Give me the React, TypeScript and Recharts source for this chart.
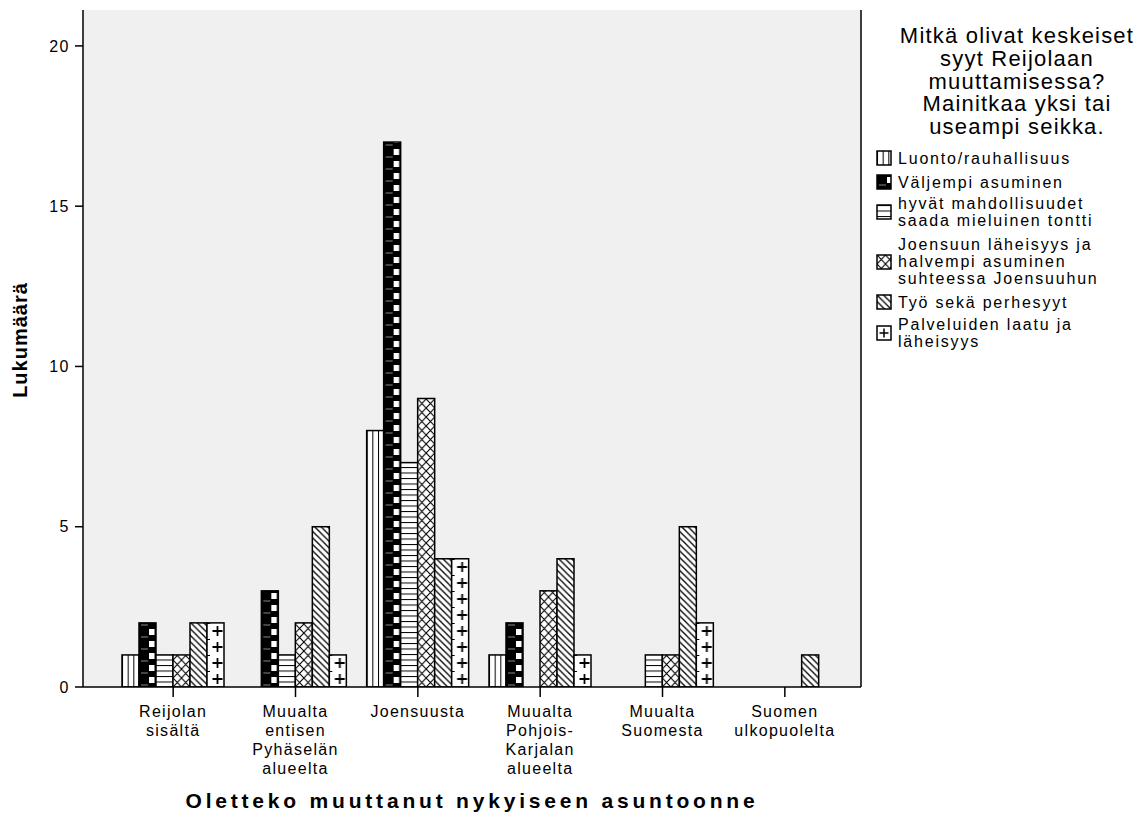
import React from "react";
import { BarChart, Bar, XAxis, YAxis, CartesianGrid } from "recharts";

// categories on the x axis (line breaks as in the original)
const categories = [
  "Reijolan\nsisältä",
  "Muualta\nentisen\nPyhäselän\nalueelta",
  "Joensuusta",
  "Muualta\nPohjois-\nKarjalan\nalueelta",
  "Muualta\nSuomesta",
  "Suomen\nulkopuolelta",
];

// counts per reason, in category order
const luonto = [1, 0, 8, 1, 0, 0];
const valjempi = [2, 3, 17, 2, 0, 0];
const hyvat = [1, 1, 7, 0, 1, 0];
const joensuun = [1, 2, 9, 3, 1, 0];
const tyo = [2, 5, 4, 4, 5, 1];
const palvelut = [2, 1, 4, 1, 2, 0];

const yTicks = [0, 5, 10, 15, 20];
const yDomain = [0, 21.12];

const legendTitle = [
  "Mitkä olivat keskeiset",
  "syyt Reijolaan",
  "muuttamisessa?",
  "Mainitkaa yksi tai",
  "useampi seikka.",
];

const series = [
  { key: "luonto", values: luonto, pattern: "pVert", label: ["Luonto/rauhallisuus"] },
  { key: "valjempi", values: valjempi, pattern: "pCheck", label: ["Väljempi asuminen"] },
  { key: "hyvat", values: hyvat, pattern: "pHoriz", label: ["hyvät mahdollisuudet", "saada mieluinen tontti"] },
  {
    key: "joensuun",
    values: joensuun,
    pattern: "pCross",
    label: ["Joensuun läheisyys ja", "halvempi asuminen", "suhteessa Joensuuhun"],
  },
  { key: "tyo", values: tyo, pattern: "pDiag", label: ["Työ sekä perhesyyt"] },
  { key: "palvelut", values: palvelut, pattern: "pPlus", label: ["Palveluiden laatu ja", "läheisyys"] },
];

const data = categories.map((name, i) => {
  const row: Record<string, any> = { name };
  series.forEach((s) => (row[s.key] = s.values[i]));
  return row;
});

const FONT = '"Liberation Sans", Arial, sans-serif';

// bar drawn in its own coordinate space so the hatch starts at the bar's base
const PatternBar = (props: any) => {
  const { x, y, width, height, fill } = props;
  if (!height || height <= 0) return null;
  return (
    <g transform={`translate(${x},${y + height})`}>
      <rect x={0} y={-height} width={width} height={height} fill={fill} stroke="#000" strokeWidth={1.5} />
    </g>
  );
};

const CategoryTick = (props: any) => {
  const { x, y, payload } = props;
  const lines = String(payload.value).split("\n");
  return (
    <text x={x} y={y} textAnchor="middle" fontSize={16} letterSpacing={1.3} fill="#000" fontFamily={FONT}>
      {lines.map((l, i) => (
        <tspan key={i} x={x} dy={i === 0 ? 18 : 19}>
          {l}
        </tspan>
      ))}
    </text>
  );
};

const Patterns = () => (
  <svg width={0} height={0} style={{ position: "absolute" }}>
    <defs>
      <pattern id="pVert" patternUnits="userSpaceOnUse" width={17 / 3} height={10}>
        <rect width={17 / 3} height={10} fill="#fff" />
        <line x1={0} y1={0} x2={0} y2={10} stroke="#000" strokeWidth={2} />
      </pattern>
      <pattern id="pCheck" patternUnits="userSpaceOnUse" width={17} height={12}>
        <rect width={17} height={12} fill="#000" />
        <rect x={10} y={2} width={5.5} height={6} fill="#fff" />
        <line x1={2} y1={10} x2={9} y2={10} stroke="#888" strokeWidth={1} />
      </pattern>
      <pattern id="pHoriz" patternUnits="userSpaceOnUse" width={10} height={5.5}>
        <rect width={10} height={5.5} fill="#fff" />
        <line x1={0} y1={0} x2={10} y2={0} stroke="#000" strokeWidth={2} />
      </pattern>
      <pattern id="pCross" patternUnits="userSpaceOnUse" width={8.5} height={9}>
        <rect width={8.5} height={9} fill="#fff" />
        <path d="M0,0 L8.5,9 M8.5,0 L0,9" stroke="#000" strokeWidth={1.1} />
      </pattern>
      <pattern id="pDiag" patternUnits="userSpaceOnUse" width={6.5} height={6.5}>
        <rect width={6.5} height={6.5} fill="#fff" />
        <path d="M-1,-1 L7.5,7.5 M-1,5.5 L1,7.5 M5.5,-1 L7.5,1" stroke="#000" strokeWidth={1.3} />
      </pattern>
      <pattern id="pPlus" patternUnits="userSpaceOnUse" width={17} height={16}>
        <rect width={17} height={16} fill="#fff" />
        <path d="M5.5,8 L15.5,8 M10.5,3 L10.5,13 M0,0 L3,0" stroke="#000" strokeWidth={1.8} />
      </pattern>
      <pattern id="pPlusIcon" patternUnits="userSpaceOnUse" width={14} height={14}>
        <rect width={14} height={14} fill="#fff" />
        <path d="M2.5,7 L11.5,7 M7,2.5 L7,11.5" stroke="#000" strokeWidth={1.5} />
      </pattern>
    </defs>
  </svg>
);

// legend line baselines
const legendLayout = [
  { baselines: [164], icon: 151 },
  { baselines: [188], icon: 175 },
  { baselines: [209, 226], icon: 205 },
  { baselines: [250, 267, 284], icon: 255 },
  { baselines: [308], icon: 295 },
  { baselines: [330, 347], icon: 326 },
];

export default function App() {
  return (
    <div style={{ position: "relative", width: 1146, height: 817, background: "#fff", fontFamily: FONT }}>
      <style>{`body{margin:0}`}</style>
      <Patterns />
      <BarChart
        width={1146}
        height={817}
        data={data}
        margin={{ top: 10, right: 284, bottom: 0, left: 0 }}
        barSize={17}
        barGap={0}
      >
        <CartesianGrid horizontal={false} vertical={false} fill="#F0F0F0" />
        <XAxis
          dataKey="name"
          interval={0}
          padding={{ left: 29, right: 15 }}
          height={130}
          tickSize={10}
          axisLine={{ stroke: "#000", strokeWidth: 1.5 }}
          tickLine={{ stroke: "#000", strokeWidth: 1.5 }}
          tick={<CategoryTick />}
        />
        <XAxis
          xAxisId="top"
          orientation="top"
          dataKey="name"
          height={0}
          tick={false}
          tickLine={false}
          axisLine={{ stroke: "#000", strokeWidth: 1.5 }}
        />
        <YAxis
          width={83}
          domain={yDomain}
          ticks={yTicks}
          allowDataOverflow
          tickSize={8}
          tickMargin={5}
          axisLine={{ stroke: "#000", strokeWidth: 1.5 }}
          tickLine={{ stroke: "#000", strokeWidth: 1.5 }}
          tick={{ fill: "#000", fontSize: 16, fontFamily: FONT, letterSpacing: 1.5 }}
        />
        <YAxis
          yAxisId="right"
          orientation="right"
          type="number"
          domain={yDomain}
          ticks={yTicks}
          allowDataOverflow
          width={1}
          tick={false}
          tickLine={false}
          axisLine={{ stroke: "#000", strokeWidth: 1.5 }}
        />
        {series.map((s) => (
          <Bar
            key={s.key}
            dataKey={s.key}
            fill={`url(#${s.pattern})`}
            shape={<PatternBar />}
            isAnimationActive={false}
          />
        ))}
      </BarChart>

      <svg
        width={1146}
        height={817}
        style={{ position: "absolute", left: 0, top: 0, pointerEvents: "none" }}
        fontFamily={FONT}
      >
        {/* axis titles */}
        <text
          x={27}
          y={340}
          transform="rotate(-90 27 340)"
          textAnchor="middle"
          fontSize={20}
          fontWeight="bold"
          letterSpacing={1}
          fill="#000"
        >
          Lukumäärä
        </text>
        <text x={472} y={808} textAnchor="middle" fontSize={21} fontWeight="bold" letterSpacing={3.8} fill="#000">
          Oletteko muuttanut nykyiseen asuntoonne
        </text>

        {/* legend */}
        {legendTitle.map((t, i) => (
          <text key={t} x={1017} y={43 + i * 22.8} textAnchor="middle" fontSize={22} letterSpacing={1.2} fill="#000">
            {t}
          </text>
        ))}
        {series.map((s, i) => (
          <g key={s.key}>
            <g transform={`translate(877,${legendLayout[i].icon})`}>
              <rect
                x={0}
                y={0}
                width={14}
                height={14}
                fill={s.pattern === "pPlus" ? "url(#pPlusIcon)" : `url(#${s.pattern})`}
                stroke="#000"
                strokeWidth={1.5}
              />
            </g>
            {s.label.map((l, j) => (
              <text key={j} x={898} y={legendLayout[i].baselines[j]} fontSize={16} letterSpacing={1.8} fill="#000">
                {l}
              </text>
            ))}
          </g>
        ))}
      </svg>
    </div>
  );
}
